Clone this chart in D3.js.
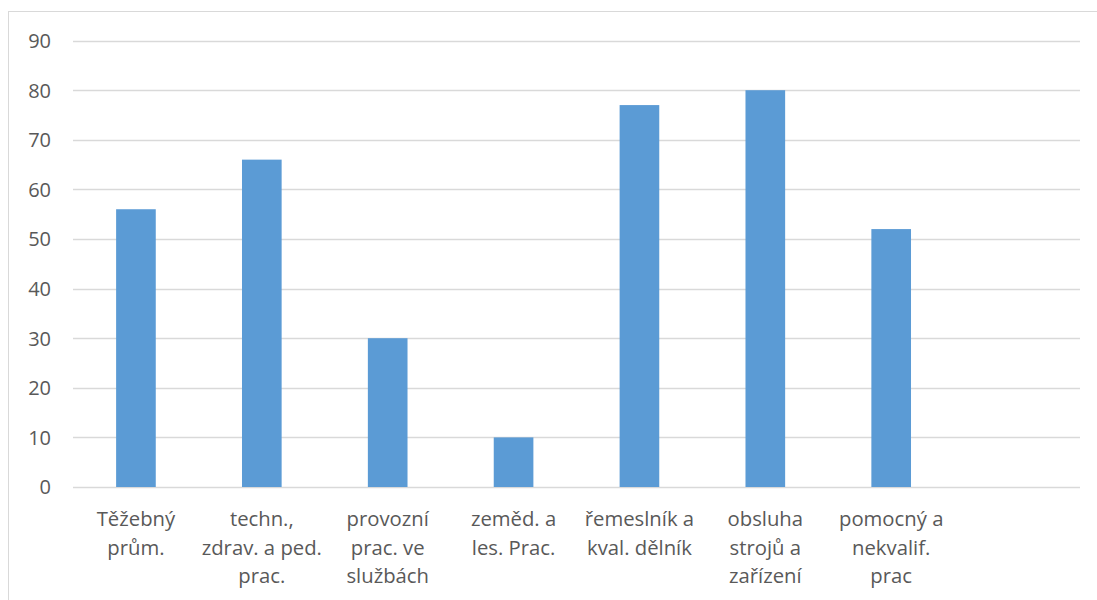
<!DOCTYPE html>
<html>
<head>
<meta charset="utf-8">
<script src="https://cdn.jsdelivr.net/npm/d3@7"></script>
<style>
  html, body { margin: 0; padding: 0; background: #fff; }
  svg { display: block; }
  text { font-family: "Open Sans", "Noto Sans", sans-serif; fill: #595959; }
</style>
</head>
<body>
<svg id="chart" width="1097" height="600"></svg>
<script>
// Category labels, one array of wrapped lines per category (last slot is empty)
const categories = [
  ["Těžebný", "prům."],
  ["techn.,", "zdrav. a ped.", "prac."],
  ["provozní", "prac. ve", "službách"],
  ["zeměd. a", "les. Prac."],
  ["řemeslník a", "kval. dělník"],
  ["obsluha", "strojů a", "zařízení"],
  ["pomocný a", "nekvalif.", "prac"],
  [""]
];
const values = [56, 66, 30, 10, 77, 80, 52, null];
const yTicks = [0, 10, 20, 30, 40, 50, 60, 70, 80, 90];

const svg = d3.select("#chart");
const W = 1097, H = 600;
const plot = { left: 73, right: 1080, top: 40.6, bottom: 487 };

// Chart area frame
svg.append("rect")
  .attr("x", 8.5).attr("y", 11.5)
  .attr("width", W).attr("height", H)
  .attr("fill", "none").attr("stroke", "#d9d9d9").attr("stroke-width", 1);

const keys = categories.map((d, i) => i);
const x = d3.scaleBand().domain(keys).range([plot.left, plot.right]).paddingInner(0.685).paddingOuter(0.3425);
const y = d3.scaleLinear().domain([0, 90]).range([plot.bottom, plot.top]);

// Horizontal gridlines
svg.append("g")
  .selectAll("line")
  .data(yTicks)
  .join("line")
  .attr("x1", plot.left).attr("x2", plot.right)
  .attr("y1", d => Math.round(y(d)) + 0.5).attr("y2", d => Math.round(y(d)) + 0.5)
  .attr("stroke", "#d9d9d9").attr("stroke-width", 1.3);

// Y axis labels
const yAxis = d3.axisLeft(y).tickValues(yTicks).tickSize(0).tickPadding(0);
const ya = svg.append("g").attr("transform", "translate(51,0)").call(yAxis);
ya.select(".domain").remove();
ya.selectAll("text")
  .attr("font-size", 20)
  .attr("font-family", "'Open Sans', sans-serif")
  .attr("fill", "#595959")
  .attr("dy", "0.34em");

// Bars
svg.append("g")
  .selectAll("rect")
  .data(values.map((v, i) => ({ v, i })).filter(d => d.v != null))
  .join("rect")
  .attr("x", d => x(d.i))
  .attr("width", x.bandwidth())
  .attr("y", d => y(d.v))
  .attr("height", d => y(0) - y(d.v))
  .attr("fill", "#5b9bd5");

// Category labels (multi-line)
const cx = d3.scaleBand().domain(keys).range([plot.left, plot.right]);
const labels = svg.append("g")
  .selectAll("text")
  .data(categories.map((lines, i) => ({ lines, i })))
  .join("text")
  .attr("text-anchor", "middle")
  .attr("font-size", 20.3)
  .attr("x", d => cx(d.i) + cx.bandwidth() / 2)
  .attr("y", 526);
labels.selectAll("tspan")
  .data(d => d.lines.map(l => ({ l, x: cx(d.i) + cx.bandwidth() / 2 })))
  .join("tspan")
  .attr("x", d => d.x)
  .attr("dy", (d, j) => j === 0 ? 0 : 28.6)
  .text(d => d.l);
</script>
</body>
</html>
